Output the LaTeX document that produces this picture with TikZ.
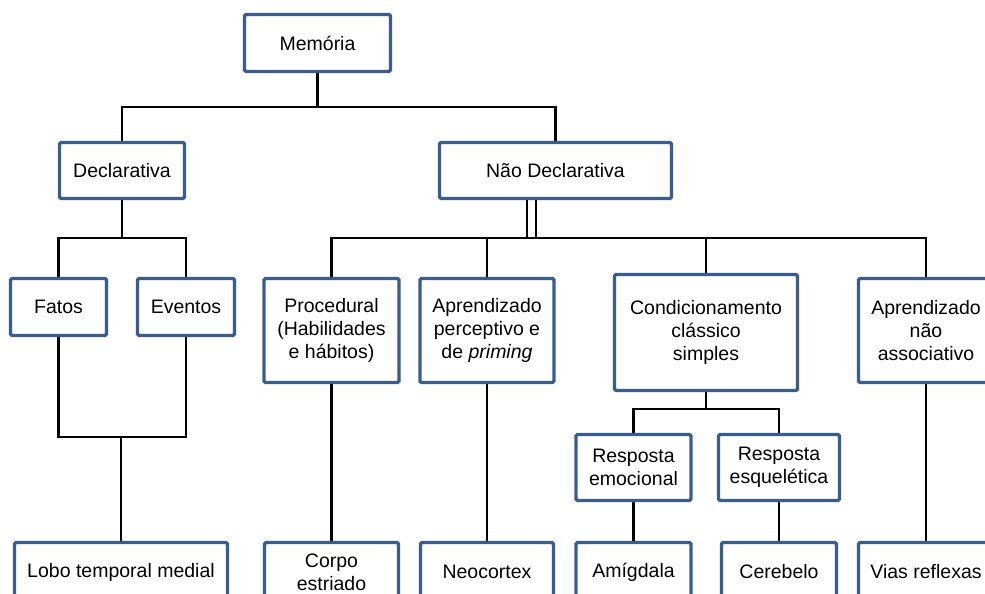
\documentclass[tikz,border=0pt]{standalone}
\usepackage{fontspec}
\setmainfont{Liberation Sans}
\pgfdeclarelayer{paper}
\pgfdeclarelayer{wires}
\pgfsetlayers{paper,wires,main}
\definecolor{boxblue}{RGB}{58,94,140}
\begin{document}
\begin{tikzpicture}[x=1pt,y=-1pt,
  box/.style={draw=boxblue, line width=3.4pt, rounded corners=1.5pt, fill=white,
    align=center, inner sep=0pt, outer sep=0pt, text=black,
    font=\fontsize{19.5}{22.7}\selectfont},
  link/.style={draw=black, line width=2.4pt}]
\useasboundingbox (0,0) rectangle (985,594);
\begin{pgfonlayer}{paper}
  \fill[white] (0,0) rectangle (985,594);
\end{pgfonlayer}
\clip (0,0) rectangle (985,594);

% top levels
\node[box, minimum width=146pt, minimum height=57pt] (mem) at (317.5,43) {Memória};
\node[box, minimum width=125pt, minimum height=56pt] (dec) at (122,170.5) {Declarativa};
\node[box, minimum width=232pt, minimum height=56pt] (nd) at (555.5,170.5) {Não Declarativa};

% declarative branch
\node[box, minimum width=96pt, minimum height=57pt] (fatos) at (58.5,307) {Fatos};
\node[box, minimum width=97pt, minimum height=57pt] (eventos) at (186,307) {Eventos};

% non-declarative branch
\node[box, minimum width=135pt, minimum height=104pt] (proc) at (331.5,330.5)
  {Procedural\\(Habilidades\\e hábitos)};
\node[box, minimum width=134pt, minimum height=104pt] (perc) at (487,330.5)
  {Aprendizado\\perceptivo e\\de \textit{priming}};
\node[box, minimum width=183pt, minimum height=116pt] (cond) at (706,332.5)
  {Condicionamento\\clássico\\simples};
\node[box, minimum width=135pt, minimum height=104pt] (nassoc) at (926,330.5)
  {Aprendizado\\não\\associativo};
\node[box, minimum width=115pt, minimum height=66pt] (remo) at (633.5,467.5)
  {Resposta\\emocional};
\node[box, minimum width=121pt, minimum height=66pt] (resq) at (779,467.5)
  {Resposta\\esquelética};

% brain structures
\node[box, minimum width=213pt, minimum height=59pt] (lobo) at (121,572) {Lobo temporal medial};
\node[box, minimum width=134pt, minimum height=59pt] (corpo) at (331.5,572) {Corpo\\estriado};
\node[box, minimum width=133pt, minimum height=59pt] (neo) at (487,572) {Neocortex};
\node[box, minimum width=115pt, minimum height=59pt] (amig) at (633.5,572) {Amígdala};
\node[box, minimum width=115pt, minimum height=59pt] (cere) at (779,572) {Cerebelo};
\node[box, minimum width=135pt, minimum height=59pt] (vias) at (926,572) {Vias reflexas};

% junction points of the tree
\coordinate (j1) at (317.5,107);
\coordinate (j2) at (122,238);
\coordinate (j3) at (121,437);
\coordinate (j4) at (706,238);
\coordinate (j5) at (706,409);
\coordinate (ndl) at ([xshift=-28.5pt]nd.south);
\coordinate (ndr) at ([xshift=-19.5pt]nd.south);

\begin{pgfonlayer}{wires}
  \draw[link] (mem.south) -- (j1);
  \draw[link] (dec.north) |- (j1) -| (nd.north);

  \draw[link] (dec.south) -- (j2);
  \draw[link] (fatos.north) |- (j2) -| (eventos.north);
  \draw[link] (fatos.south) |- (j3) -| (eventos.south);
  \draw[link] (j3) -- (lobo.north);

  \draw[link] (ndl) -- (ndl |- j4);
  \draw[link] (ndr) -- (ndr |- j4);
  \draw[link] (proc.north) |- (j4) -| (nassoc.north);
  \draw[link] (perc.north) -- (perc.north |- j4);
  \draw[link] (cond.north) -- (j4);

  \draw[link] (cond.south) -- (j5);
  \draw[link] (remo.north) |- (j5) -| (resq.north);

  \draw[link] (proc.south) -- (corpo.north);
  \draw[link] (perc.south) -- (neo.north);
  \draw[link] (remo.south) -- (amig.north);
  \draw[link] (resq.south) -- (cere.north);
  \draw[link] (nassoc.south) -- (vias.north);
\end{pgfonlayer}
\end{tikzpicture}
\end{document}
